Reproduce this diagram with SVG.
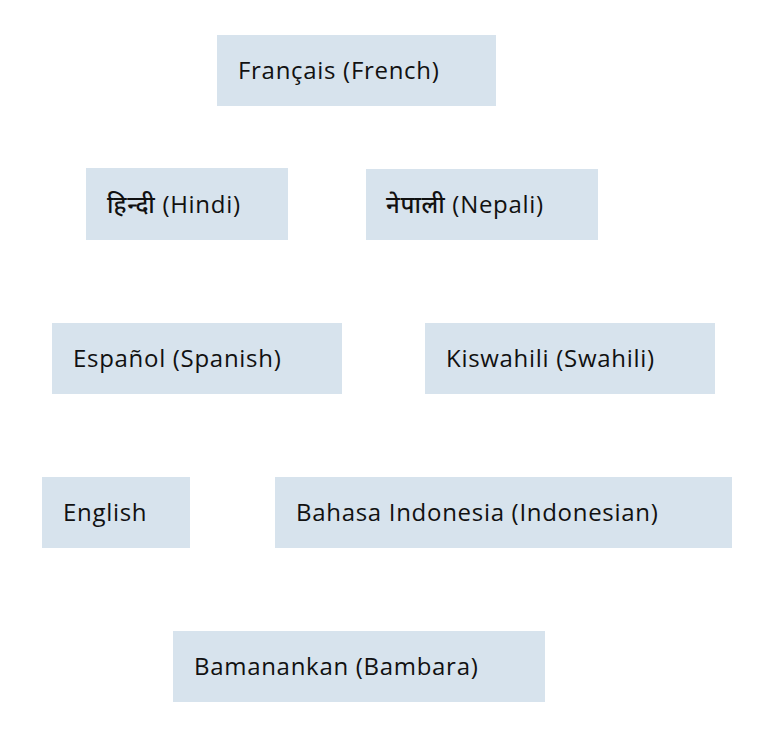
<svg xmlns="http://www.w3.org/2000/svg" width="778" height="744" viewBox="0 0 778 744">
<style>
.box{fill:#d7e3ed}
text{font-family:"Open Sans","Noto Sans",sans-serif;font-size:24px;font-weight:500;letter-spacing:0.7px;fill:#111}
</style>
<rect width="778" height="744" fill="#fff"/>
<g id="connectors"></g>
<g id="french"><rect class="box" x="217" y="35" width="279" height="71"/><text x="238" y="79">Français (French)</text></g>
<g id="hindi"><rect class="box" x="86" y="168" width="202" height="72"/><text x="107" y="213">हिन्दी (Hindi)</text></g>
<g id="nepali"><rect class="box" x="366" y="169" width="232" height="71"/><text x="386" y="213">नेपाली (Nepali)</text></g>
<g id="spanish"><rect class="box" x="52" y="323" width="290" height="71"/><text x="73" y="367">Español (Spanish)</text></g>
<g id="swahili"><rect class="box" x="425" y="323" width="290" height="71"/><text x="446" y="367">Kiswahili (Swahili)</text></g>
<g id="english"><rect class="box" x="42" y="477" width="148" height="71"/><text x="63" y="521">English</text></g>
<g id="indonesian"><rect class="box" x="275" y="477" width="457" height="71"/><text x="296" y="521">Bahasa Indonesia (Indonesian)</text></g>
<g id="bambara"><rect class="box" x="173" y="631" width="372" height="71"/><text x="194" y="675">Bamanankan (Bambara)</text></g>
</svg>
